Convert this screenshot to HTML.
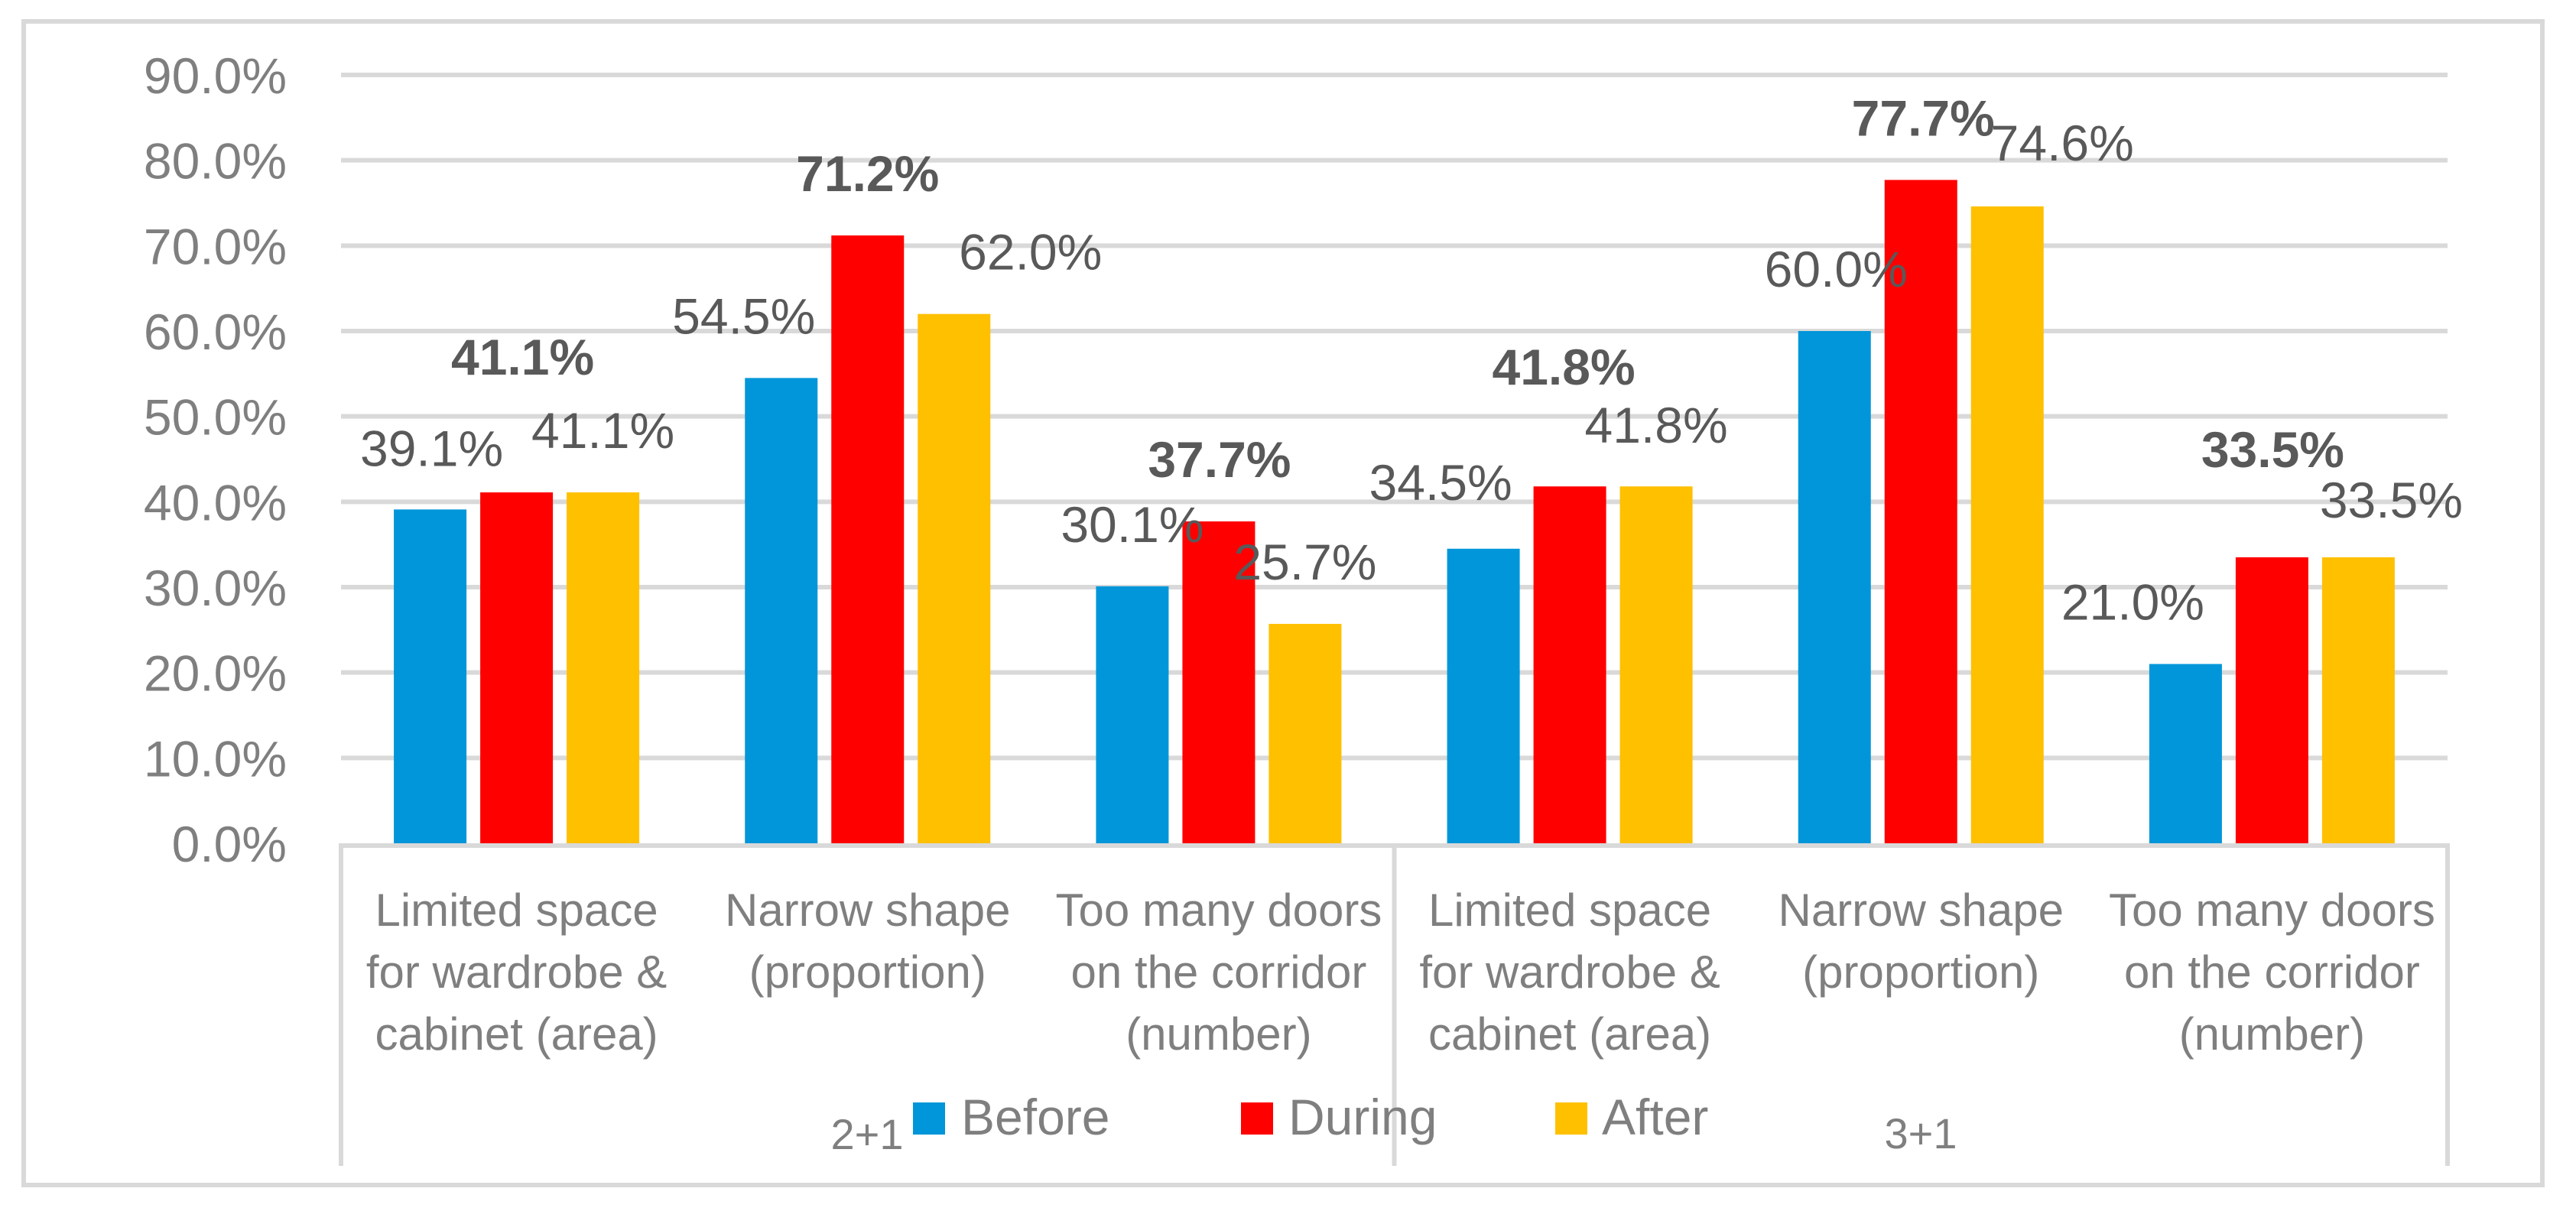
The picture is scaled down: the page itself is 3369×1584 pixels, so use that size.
<!DOCTYPE html>
<html><head><meta charset="utf-8"><style>
html,body{margin:0;padding:0;background:#fff;}
svg{display:block;font-family:"Liberation Sans",Arial,sans-serif;}
</style></head><body>
<svg id="chart" width="3369" height="1584" viewBox="0 0 3369 1584" xmlns="http://www.w3.org/2000/svg">
<rect x="31" y="28" width="3294" height="1522" fill="#fff" stroke="#d9d9d9" stroke-width="6"/>
<g id="grid"></g>
<g id="yticks"></g>
<g id="bars"></g>
<g id="labels"></g>
<g id="xaxis"></g>
<g>
  <rect x="1194" y="1442" width="42" height="42" fill="#0096d9"/>
  <text x="1257" y="1484" font-size="66" fill="#7f7f7f">Before</text>
  <rect x="1623" y="1442" width="42" height="42" fill="#ff0000"/>
  <text x="1685" y="1484" font-size="66" fill="#7f7f7f">During</text>
  <rect x="2034" y="1442" width="42" height="42" fill="#ffc000"/>
  <text x="2095" y="1484" font-size="66" fill="#7f7f7f">After</text>
</g>
<text x="1134" y="1503" font-size="56" fill="#7f7f7f" text-anchor="middle">2+1</text>
<text x="2512" y="1502" font-size="56" fill="#7f7f7f" text-anchor="middle">3+1</text>
</svg>
<script>
const categories = [
  ["Limited space","for wardrobe &","cabinet (area)"],
  ["Narrow shape","(proportion)"],
  ["Too many doors","on the corridor","(number)"],
  ["Limited space","for wardrobe &","cabinet (area)"],
  ["Narrow shape","(proportion)"],
  ["Too many doors","on the corridor","(number)"]
];
const seriesNames = ["Before","During","After"];
const before = [39.1, 54.5, 30.1, 34.5, 60.0, 21.0];
const during = [41.1, 71.2, 37.7, 41.8, 77.7, 33.5];
const after  = [41.1, 62.0, 25.7, 41.8, 74.6, 33.5];
const yTicks = [0,10,20,30,40,50,60,70,80,90];
const yTickLabels = ["0.0%","10.0%","20.0%","30.0%","40.0%","50.0%","60.0%","70.0%","80.0%","90.0%"];

const NS = "http://www.w3.org/2000/svg";
const colors = ["#0096d9","#ff0000","#ffc000"];
const series = [before, during, after];
const plotL = 446, plotR = 3201, y0 = 1103, y90 = 98;
const catW = (plotR - plotL) / categories.length;
function yScale(v){ return y0 - (v/90)*(y0 - y90); }
function xCenter(ci, si){ return plotL + catW*ci + catW/2 + (si-1)*113; }
const labelDx = [[2,-49,0,-56,2,-69],[8,0,1,-8,3,1],[0,100,0,0,72,43]];
const labelDy = [[-57,-58,-58,-64,-58,-58],[-154,-58,-58,-133,-58,-118],[-58,-58,-58,-57,-60,-52]];

function mk(tag, attrs, parent){ const e=document.createElementNS(NS,tag); for(const k in attrs) e.setAttribute(k,attrs[k]); parent.appendChild(e); return e; }

const grid = document.getElementById('grid');
const yt = document.getElementById('yticks');
yTicks.forEach((t,i)=>{
  const y = yScale(t);
  if (t>0){
    const l = mk('line',{x1:plotL,x2:plotR,y1:y,y2:y,stroke:'#d9d9d9','stroke-width':6},grid);
    
    
  }
  const tx = mk('text',{x:375,y:y+24,'font-size':66,fill:'#7f7f7f','text-anchor':'end'},yt);
  tx.textContent = yTickLabels[i];
  
  
});

const bars = document.getElementById('bars');
const labels = document.getElementById('labels');
series.forEach((vals,si)=>{
  vals.forEach((v,ci)=>{
    const cx = xCenter(ci,si), top = yScale(v);
    const r = mk('rect',{x:cx-47.5,y:top,width:95,height:y0-top,fill:colors[si]},bars);
    
    
    const t = mk('text',{x:cx+labelDx[si][ci],y:top+labelDy[si][ci],'font-size':66,fill:'#595959','text-anchor':'middle','font-weight':si===1?'bold':'normal'},labels);
    t.textContent = v.toFixed(1)+'%';
    
    
  });
});

const xa = document.getElementById('xaxis');
const ax = mk('line',{x1:plotL-3,x2:plotR+3,y1:y0+3,y2:y0+3,stroke:'#d9d9d9','stroke-width':6},xa);


[plotL, plotL+catW*3, plotR].forEach(x=>{
  const l = mk('line',{x1:x,x2:x,y1:y0,y2:1525,stroke:'#d9d9d9','stroke-width':6},xa);
  
  
});
categories.forEach((lines,ci)=>{
  const cx = plotL + catW*ci + catW/2;
  lines.forEach((ln,li)=>{
    const t = mk('text',{x:cx,y:1211+li*81,'font-size':60,fill:'#7f7f7f','text-anchor':'middle'},xa);
    t.textContent = ln;
    
    
  });
});
</script>
</body></html>
